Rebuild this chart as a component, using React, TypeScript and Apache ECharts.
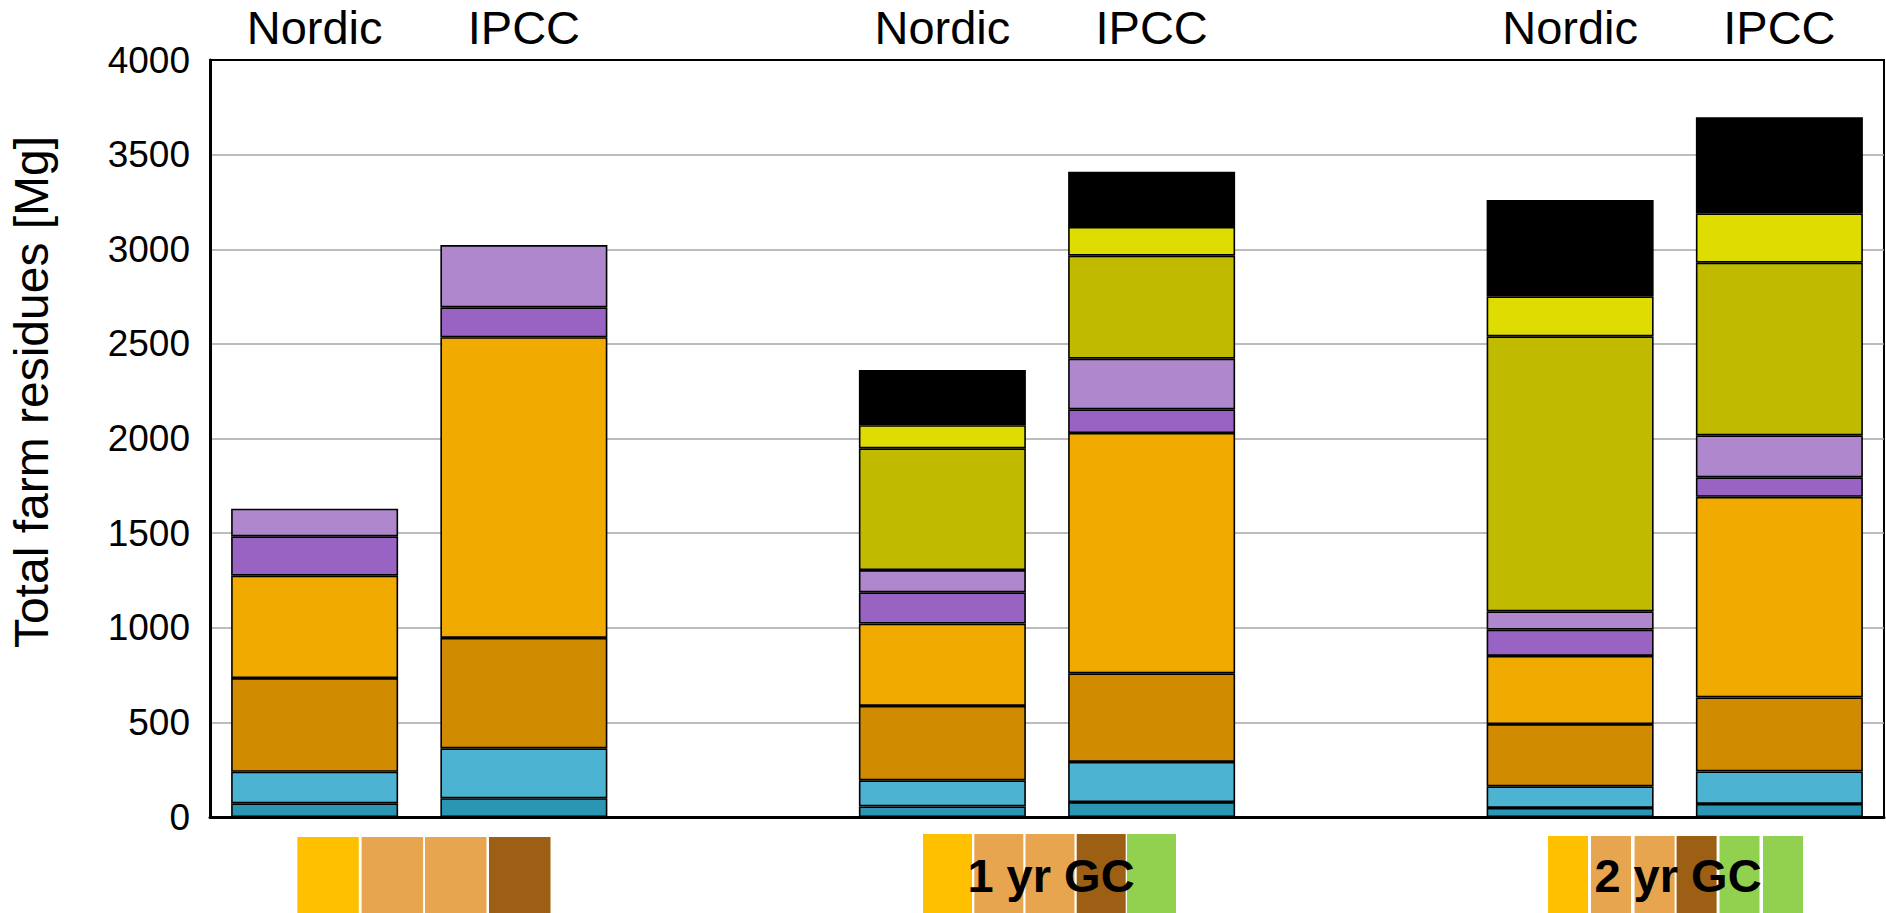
import React, { useEffect, useRef } from "react";
import * as echarts from "echarts";

// ---- data (Mg), bars in order: no GC, 1 yr GC, 2 yr GC; each Nordic then IPCC
const barLabels = ["Nordic", "IPCC", "Nordic", "IPCC", "Nordic", "IPCC"];
const teal = [72, 99, 56, 79, 48, 69];
const lightBlue = [167, 264, 138, 212, 114, 172];
const darkOrange = [495, 583, 393, 468, 329, 391];
const orange = [541, 1589, 435, 1270, 360, 1060];
const purple = [208, 158, 165, 125, 139, 103];
const lavender = [146, 329, 118, 268, 97, 222];
const olive = [0, 0, 643, 544, 1453, 912];
const yellow = [0, 0, 122, 152, 211, 261];
const black = [0, 0, 292, 292, 509, 507];

const yMin = 0;
const yMax = 4000;
const yStep = 500;

// ---- layout
const SLOT_COUNT = 8;
const BAR_SLOTS = [0, 1, 3, 4, 6, 7];
const FONT = '"Liberation Sans", Arial, Helvetica, sans-serif';

const layers = [
  { name: "teal", values: teal, color: "#2B96B4" },
  { name: "lightBlue", values: lightBlue, color: "#4CB4D2" },
  { name: "darkOrange", values: darkOrange, color: "#D18B00" },
  { name: "orange", values: orange, color: "#F0AA00" },
  { name: "purple", values: purple, color: "#9963C4" },
  { name: "lavender", values: lavender, color: "#AF87CC" },
  { name: "olive", values: olive, color: "#C0BB00" },
  { name: "yellow", values: yellow, color: "#DEDC00" },
  { name: "black", values: black, color: "#000000" },
];

const swatchGroups = [
  {
    label: "",
    cx: 0,
    y: 837,
    h: 76,
    w: 61.5,
    xs: [297.3, 361.6, 425, 489],
    colors: ["#FFC000", "#E8A54F", "#E8A54F", "#9C5F14"],
  },
  {
    label: "1 yr GC",
    cx: 1051,
    y: 834,
    h: 79,
    w: 49,
    xs: [923, 974.3, 1025.5, 1076.7, 1127],
    colors: ["#FFC000", "#E8A54F", "#E8A54F", "#9C5F14", "#92D050"],
  },
  {
    label: "2 yr GC",
    cx: 1678,
    y: 836,
    h: 77,
    w: 40,
    xs: [1548, 1591, 1634.6, 1676.6, 1719.5, 1763],
    colors: ["#FFC000", "#E8A54F", "#E8A54F", "#9C5F14", "#92D050", "#92D050"],
  },
];

export default function App() {
  const ref = useRef<HTMLDivElement>(null);

  useEffect(() => {
    if (!ref.current) return;
    const chart = echarts.init(ref.current, null, { renderer: "svg" });

    const slots: string[] = new Array(SLOT_COUNT).fill("");
    BAR_SLOTS.forEach((s, i) => (slots[s] = barLabels[i]));

    const toSlots = (vals: number[]) => {
      const arr: any[] = new Array(SLOT_COUNT).fill("-");
      BAR_SLOTS.forEach((s, i) => (arr[s] = vals[i] > 0 ? vals[i] : "-"));
      return arr;
    };

    const series = layers.map((l) => ({
      name: l.name,
      type: "bar",
      stack: "total",
      xAxisIndex: 0,
      barWidth: 167,
      data: toSlots(l.values),
      itemStyle: { color: l.color, borderColor: "#000", borderWidth: 1.6 },
      emphasis: { disabled: true },
    }));

    const graphic: any[] = [
      {
        type: "text",
        x: 31,
        y: 392,
        rotation: Math.PI / 2,
        style: {
          text: "Total farm residues [Mg]",
          fontSize: 48,
          fontFamily: FONT,
          fill: "#000",
          align: "center",
          verticalAlign: "middle",
        },
      },
    ];
    swatchGroups.forEach((g) => {
      g.xs.forEach((x, i) => {
        graphic.push({
          type: "rect",
          shape: { x, y: g.y, width: g.w, height: g.h },
          style: { fill: g.colors[i] },
          z: 10,
        });
      });
      if (g.label) {
        graphic.push({
          type: "text",
          x: g.cx,
          y: 875,
          z: 11,
          style: {
            text: g.label,
            fontSize: 47,
            fontWeight: "bold",
            fontFamily: FONT,
            fill: "#000",
            align: "center",
            verticalAlign: "middle",
          },
        });
      }
    });

    chart.setOption({
      animation: false,
      backgroundColor: "#fff",
      grid: {
        left: 210,
        top: 60,
        right: 2,
        bottom: 96,
        show: true,
        borderColor: "#000",
        borderWidth: 2,
      },
      xAxis: [
        {
          type: "category",
          data: slots,
          position: "bottom",
          axisLine: { lineStyle: { color: "#000", width: 3 } },
          axisTick: { show: false },
          axisLabel: { show: false },
          splitLine: { show: false },
        },
        {
          type: "category",
          data: slots,
          position: "top",
          axisLine: { show: true, lineStyle: { color: "#000", width: 2 } },
          axisTick: { show: false },
          axisLabel: {
            interval: 0,
            fontSize: 47,
            fontFamily: FONT,
            color: "#000",
            margin: 9,
          },
          splitLine: { show: false },
        },
      ],
      yAxis: {
        type: "value",
        min: yMin,
        max: yMax,
        interval: yStep,
        axisLine: { show: true, lineStyle: { color: "#000", width: 3 } },
        axisTick: { show: false },
        axisLabel: {
          fontSize: 37,
          fontFamily: FONT,
          color: "#000",
          margin: 20,
          formatter: (v: number) => String(v),
        },
        splitLine: { lineStyle: { color: "#A6A6A6", width: 1.5 } },
      },
      series,
      graphic,
    });

    return () => chart.dispose();
  }, []);

  return (
    <div
      ref={ref}
      style={{ position: "fixed", left: 0, top: 0, width: 1886, height: 913, background: "#fff" }}
    />
  );
}
